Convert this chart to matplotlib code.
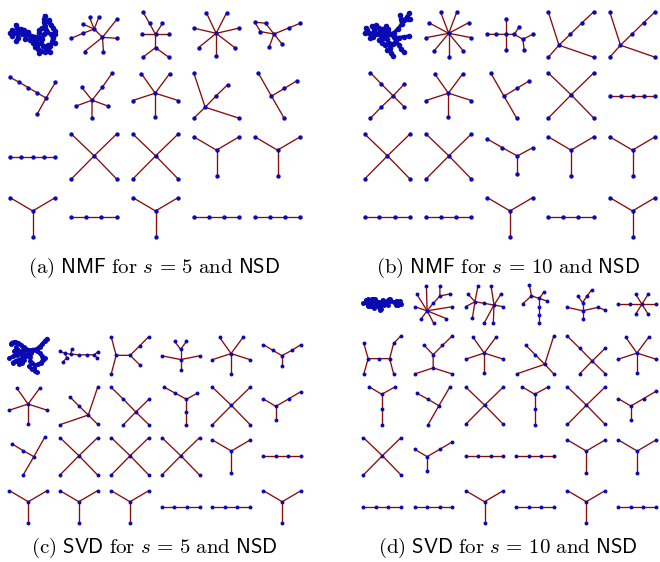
import matplotlib
matplotlib.use('Agg')
import matplotlib.pyplot as plt

plt.rcParams['mathtext.fontset'] = 'cm'

W, H = 660, 562
EDGE = '#8b0a0a'
NODE = '#0a0ab4'

# each graph = list of chains (polylines); node positions
X = [[(213, 42), (282, 108), (350, 178)], [(350, 42), (282, 108), (213, 178)]]
Y = [[(580, 50), (648, 90), (716, 50)], [(648, 90), (648, 168)]]
P4 = [[(213, 292), (258, 292), (304, 292), (350, 292)]]
P5 = [[(30, 108), (64, 108), (98, 108), (132, 108), (166, 108)]]
STAR5 = [[(424, 221), (465, 279), (508, 221)], [(398, 301), (465, 279), (534, 301)],
         [(465, 279), (465, 351)]]
STAR7 = [[(618, 37), (648, 100), (680, 37)], [(580, 84), (648, 100), (718, 84)],
         [(595, 143), (648, 100), (704, 143)], [(648, 100), (648, 170)]]
STAR9 = [[(332, 37), (356, 100), (380, 37)], [(296, 68), (356, 100), (416, 68)],
         [(288, 113), (356, 100), (424, 113)], [(312, 153), (356, 100), (400, 153)],
         [(356, 100), (356, 170)]]
HOOK = [[(774, 217), (814, 287), (852, 353)], [(814, 287), (852, 264), (890, 241)]]
X2 = [[(333, 322), (370, 358), (407, 396), (446, 434)], [(446, 358), (407, 396), (370, 434)]]
YR = [[(791, 356), (828, 378), (866, 356), (903, 334)], [(828, 378), (828, 420)]]
YL = [[(472, 57), (517, 83), (562, 108), (608, 83)], [(562, 108), (562, 162)]]
YLONG = [[(120, 321), (157, 343), (197, 321)], [(157, 343), (157, 388), (157, 433)]]

A2 = [[(213, 115), (248, 100), (282, 87), (307, 112), (350, 58)], [(268, 52), (282, 87), (296, 52)],
      [(248, 72), (282, 87)], [(350, 115), (307, 112), (310, 155)], [(253, 155), (307, 112)]]
A3 = [[(427, 35), (447, 70), (465, 103), (486, 70)], [(425, 103), (465, 103), (505, 103)],
      [(465, 103), (465, 143), (427, 172)], [(465, 143), (505, 172)]]
A5 = [[(765, 67), (797, 70), (822, 102), (782, 95), (765, 67)], [(822, 102), (866, 84), (900, 70)],
      [(808, 140), (822, 102), (846, 132)]]
A6 = [[(30, 232), (58, 247), (85, 263), (112, 279), (138, 294), (166, 247)], [(138, 294), (112, 341)]]
A7 = [[(227, 318), (276, 300), (325, 318)], [(245, 261), (276, 300), (276, 354)],
      [(276, 300), (307, 261), (337, 218)]]
A9 = [[(582, 217), (616, 320), (718, 353)], [(582, 353), (616, 320), (648, 287), (683, 253)]]

B3 = [[(470, 103), (498, 103), (526, 103), (552, 103), (567, 80)], [(526, 57), (526, 103), (526, 150)],
      [(552, 103), (578, 118), (608, 103)], [(578, 118), (582, 150)]]
B4 = [[(656, 36), (688, 136), (792, 172)], [(656, 172), (688, 136), (722, 103), (757, 69), (792, 36)]]
B6 = [[(122, 218), (155, 252), (190, 287), (223, 320)], [(223, 252), (190, 287), (155, 320), (122, 354)]]

C2 = [[(180, 213), (195, 220), (213, 222), (238, 224), (260, 224), (282, 224), (293, 216)],
      [(282, 224), (292, 234)], [(215, 207), (213, 222)], [(195, 220), (200, 232), (190, 245)]]
C3 = [[(333, 170), (348, 226), (333, 283)], [(348, 226), (390, 226), (418, 198), (446, 170)],
      [(390, 226), (418, 254)]]
C4 = [[(524, 184), (542, 208), (559, 184)], [(542, 208), (542, 238), (542, 268)],
      [(486, 227), (542, 238), (598, 227)]]
C6 = [[(791, 193), (819, 210), (846, 226), (876, 210), (903, 193)], [(846, 226), (846, 258)]]
C8 = [[(293, 322), (265, 405), (293, 433)], [(209, 350), (237, 378), (265, 405), (180, 434)]]
C10 = [[(492, 322), (525, 340), (558, 358), (590, 340)], [(558, 358), (558, 396), (558, 434)]]
C13 = [[(35, 102), (68, 122), (100, 140), (132, 83)], [(100, 140), (68, 195)]]

D2 = [[(290, 17), (292, 92), (255, 80)], [(261, 42), (292, 92), (367, 80)],
      [(275, 115), (292, 92), (311, 128)], [(292, 92), (348, 115)],
      [(292, 92), (310, 70), (330, 48), (330, 17)], [(330, 48), (360, 42)]]
D3 = [[(414, 42), (435, 65), (444, 17)], [(407, 80), (435, 65), (427, 115)],
      [(435, 65), (463, 70), (492, 75), (483, 17)], [(513, 42), (492, 75), (520, 80)],
      [(463, 128), (492, 75), (490, 128)]]
D4 = [[(599, 16), (605, 47), (580, 70)], [(605, 47), (628, 55), (642, 36)], [(628, 55), (652, 63)],
      [(628, 55), (628, 80), (628, 104), (628, 128)]]
D5 = [[(785, 30), (771, 48), (758, 68), (744, 48)], [(758, 68), (758, 92), (758, 115)],
      [(713, 82), (758, 92), (803, 82), (825, 90)]]
D6 = [[(865, 72), (903, 72), (940, 72), (985, 72)], [(920, 40), (940, 72), (960, 104)],
      [(960, 40), (940, 72), (920, 104)]]
D7 = [[(102, 190), (115, 236), (102, 282)], [(115, 236), (147, 236), (180, 236), (192, 282)],
      [(180, 236), (192, 190), (213, 168)]]
D8 = [[(283, 196), (310, 224), (338, 196), (367, 168)], [(310, 224), (310, 264), (255, 282)],
      [(310, 264), (367, 282)]]
D10 = [[(672, 168), (645, 253), (560, 282)], [(588, 196), (616, 224), (645, 253), (672, 282)]]
D14 = [[(360, 321), (327, 377), (295, 433)], [(262, 340), (295, 358), (327, 377)]]

BLOB_A = [
    [(25, 100), (37, 99), (50, 101), (62, 103), (74, 106), (86, 108), (98, 110), (110, 113), (120, 116)],
    [(42, 75), (46, 86), (50, 101), (48, 113), (44, 124)],
    [(58, 88), (62, 103)], [(66, 92), (74, 106), (70, 118)], [(80, 96), (86, 108), (84, 120)],
    [(98, 110), (102, 122), (104, 134), (108, 146), (116, 154), (128, 155), (138, 148), (145, 138),
     (150, 126), (152, 114), (146, 103), (136, 98), (126, 104), (120, 116)],
    [(128, 48), (127, 58), (126, 68), (128, 80), (132, 90), (136, 98)],
    [(140, 60), (140, 68), (148, 76), (152, 86), (158, 94), (160, 104), (152, 114)],
    [(150, 126), (160, 128)], [(108, 146), (100, 140)],
    [(120, 116), (118, 128), (122, 138), (128, 140), (138, 136), (145, 138)],
    [(138, 148), (145, 156)], [(116, 154), (112, 160)], [(104, 134), (94, 128), (90, 118)],
    [(132, 90), (120, 84), (112, 92), (110, 100)], [(30, 92), (37, 99), (32, 108)],
]
BLOB_B = [
    [(28, 92), (40, 92), (52, 92), (64, 94), (76, 96), (88, 96), (100, 94), (112, 90), (124, 78),
     (134, 66), (142, 54), (150, 44), (156, 34)],
    [(134, 66), (132, 52), (130, 40)], [(142, 54), (152, 50), (158, 52)],
    [(48, 72), (56, 80), (64, 94)], [(62, 68), (68, 76), (72, 86), (76, 96)],
    [(44, 106), (52, 102), (64, 94)],
    [(88, 96), (92, 108), (98, 120), (102, 134), (104, 148), (108, 156)],
    [(100, 94), (112, 102), (126, 104), (140, 102), (155, 100)],
    [(112, 102), (118, 116), (126, 126), (132, 136), (140, 146)],
    [(80, 78), (86, 86), (88, 96)], [(70, 110), (80, 104), (88, 96)],
    [(98, 120), (86, 124), (78, 118)], [(102, 134), (92, 140)], [(118, 116), (108, 122)],
    [(40, 92), (36, 82), (32, 76)], [(90, 70), (96, 80), (100, 94)],
]
BLOB_C = [
    [(24, 190), (28, 185), (38, 182), (48, 186), (58, 192), (66, 200), (74, 206), (84, 210), (96, 208),
     (108, 206), (118, 198), (126, 190), (134, 180), (142, 172)],
    [(20, 236), (32, 230), (44, 226), (56, 222), (66, 218), (74, 206)],
    [(30, 250), (40, 244), (52, 240), (62, 236), (72, 230), (80, 222), (84, 210)],
    [(96, 208), (108, 212), (118, 220), (126, 230), (128, 240), (122, 250), (112, 256), (102, 258),
     (94, 252), (88, 244), (86, 232), (90, 220), (96, 208)],
    [(102, 258), (100, 268), (104, 278), (110, 282)],
    [(40, 200), (48, 208), (56, 222)], [(60, 250), (66, 242), (72, 230)],
    [(94, 252), (84, 262), (92, 272)], [(36, 212), (44, 226)], [(128, 240), (135, 236)],
    [(66, 200), (62, 212), (66, 218)], [(50, 256), (60, 250)],
]
BLOB_D = [
    [(100, 68), (112, 66), (124, 64), (136, 62), (148, 64), (160, 66), (172, 64), (184, 62), (196, 64),
     (208, 68), (218, 70)],
    [(108, 58), (116, 56), (124, 64), (128, 76), (134, 82)],
    [(128, 54), (136, 54), (136, 62), (140, 74), (148, 80), (152, 88)],
    [(148, 64), (152, 76), (156, 86)], [(160, 58), (160, 66), (166, 74)],
    [(184, 62), (182, 54), (178, 58)], [(196, 64), (202, 72), (210, 74)],
    [(112, 66), (114, 76), (120, 78)], [(172, 64), (176, 72)], [(204, 60), (208, 68), (215, 62)],
]
BLOBS = [BLOB_A, BLOB_B, BLOB_C, BLOB_D]

grid_a = [[BLOB_A, A2, A3, STAR7, A5], [A6, A7, STAR5, A9, HOOK], [P5, X, X, Y, Y], [Y, P4, Y, P4, P4]]
grid_b = [[BLOB_B, STAR9, B3, B4, B4], [B6, STAR5, HOOK, X, P5], [X, X, YL, Y, Y], [P4, P4, Y, P4, Y]]
grid_c = [[BLOB_C, C2, C3, C4, STAR5, C6], [STAR5, C8, X2, C10, X, YR],
          [C13, X, X, X, Y, P4], [Y, Y, Y, P4, P4, Y]]
grid_d = [[BLOB_D, D2, D3, D4, D5, D6], [D7, D8, STAR5, D10, X2, STAR5],
          [YLONG, D14, X, YLONG, X, YR], [X, YR, P4, P4, Y, Y], [P4, P4, Y, P4, Y, P4]]

# panel layout (pixels): column centres, row centres, cell size, graph span, node size
panels = [
    (grid_a, [32.7, 94, 155.5, 216.5, 277.5], [34.5, 95.5, 156.5, 217.3], 58, 45.5, 10),
    (grid_b, [387.3, 448.7, 510, 571, 632.5], [34.5, 95.5, 156.5, 217.3], 58, 45.5, 10),
    (grid_c, [28.3, 78.8, 130, 180.7, 231.3, 282.2], [355.5, 406, 456.3, 507], 48, 37.7, 8),
    (grid_d, [382.2, 433.5, 484.5, 535.2, 586.3, 637.2], [304.2, 355, 405.7, 456.3, 507], 48, 37.7, 8),
]
captions = [
    (154.5, 273, r'$\mathrm{(a)\ }\mathsf{NMF}\mathrm{\ for\ }s\,=\,5\mathrm{\ and\ }\mathsf{NSD}$'),
    (507.5, 273, r'$\mathrm{(b)\ }\mathsf{NMF}\mathrm{\ for\ }s\,=\,10\mathrm{\ and\ }\mathsf{NSD}$'),
    (154.5, 553, r'$\mathrm{(c)\ }\mathsf{SVD}\mathrm{\ for\ }s\,=\,5\mathrm{\ and\ }\mathsf{NSD}$'),
    (508, 553, r'$\mathrm{(d)\ }\mathsf{SVD}\mathrm{\ for\ }s\,=\,10\mathrm{\ and\ }\mathsf{NSD}$'),
]


def draw_graph(fig, cx, cy, cell, span_px, ms, chains):
    pts = []
    for ch in chains:
        for p in ch:
            if p not in pts:
                pts.append(p)
    xs = [p[0] for p in pts]
    ys = [p[1] for p in pts]
    span = max(max(xs) - min(xs), max(ys) - min(ys))
    half = span / 2.0 * cell / span_px
    mx = (max(xs) + min(xs)) / 2.0
    my = (max(ys) + min(ys)) / 2.0
    ax = fig.add_axes([(cx - cell / 2.0) / W, 1 - (cy + cell / 2.0) / H, cell / W, cell / H])
    ax.set_xlim(mx - half, mx + half)
    ax.set_ylim(my + half, my - half)
    ax.axis('off')
    blob = chains in BLOBS
    for ch in chains:
        ax.plot([p[0] for p in ch], [p[1] for p in ch],
                color=NODE if blob else EDGE, lw=2.6 if blob else 0.95, zorder=1,
                solid_capstyle='round')
    ax.scatter(xs, ys, s=ms * 1.6 if blob else ms, c=NODE, linewidths=0, zorder=2)


fig = plt.figure(figsize=(W / 100.0, H / 100.0), dpi=100)
for grid, cols, rows, cell, span_px, ms in panels:
    for r, row in enumerate(grid):
        for c, g in enumerate(row):
            draw_graph(fig, cols[c], rows[r], cell, span_px, ms, g)

for x, y, s in captions:
    fig.text(x / W, 1 - y / H, s, ha='center', va='baseline', fontsize=15)

fig.savefig('out.png', dpi=100)
